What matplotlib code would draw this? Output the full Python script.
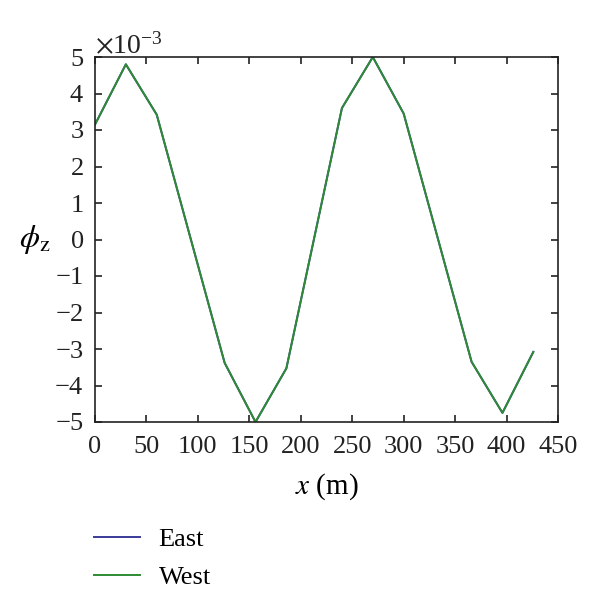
import matplotlib
matplotlib.use('Agg')
import matplotlib.pyplot as plt
import numpy as np

plt.rcParams['font.family'] = 'Liberation Serif'
plt.rcParams['mathtext.fontset'] = 'stix'
fontsize = 19

# positions along the line (m) and rotation values
x_pos = [0, 30, 60, 126, 156, 186, 240, 270, 300, 366, 396, 426]
east = [3.15e-3, 4.8e-3, 3.42e-3, -3.38e-3, -5.0e-3, -3.53e-3,
        3.6e-3, 5.0e-3, 3.45e-3, -3.35e-3, -4.75e-3, -3.08e-3]
west = list(east)

fig = plt.figure(figsize=(6, 6.05), dpi=100)
ax = fig.add_axes([95/600, 1 - 422/605, (558-95)/600, (422-57)/605])

ax.plot(x_pos, east, color='#3a3a9a', lw=1.4, label='East')
ax.plot(x_pos, west, color='#2e8b35', lw=1.4, label='West')

ax.set_xlim(0, 450)
ax.set_ylim(-5e-3, 5e-3)
ax.set_xticks(np.arange(0, 451, 50))
ax.set_yticks(np.arange(-5, 6) * 1e-3)
ax.ticklabel_format(axis='y', style='sci', scilimits=(0, 0), useMathText=True)
ax.yaxis.get_offset_text().set_fontsize(fontsize + 1)
ax.tick_params(direction='in', top=True, right=True, labelsize=fontsize,
               length=5, width=1.2, colors='#222222')
ax.tick_params(axis='x', pad=10)
ax.tick_params(axis='y', pad=8)
for s in ax.spines.values():
    s.set_linewidth(1.2)
    s.set_color('#222222')

ax.set_xlabel('$x$ (m)', fontsize=fontsize + 2, labelpad=10)
ax.set_ylabel(r'$\phi_\mathrm{z}$', fontsize=fontsize + 4, rotation=0, labelpad=14, va='center')

fig.legend(*ax.get_legend_handles_labels(), loc='upper left',
           bbox_to_anchor=(94/600, 1 - 528/605), frameon=False, borderpad=0,
           borderaxespad=0, fontsize=fontsize, handlelength=1.75,
           handletextpad=0.7, labelspacing=0.55)

fig.savefig('out.png', dpi=100)
